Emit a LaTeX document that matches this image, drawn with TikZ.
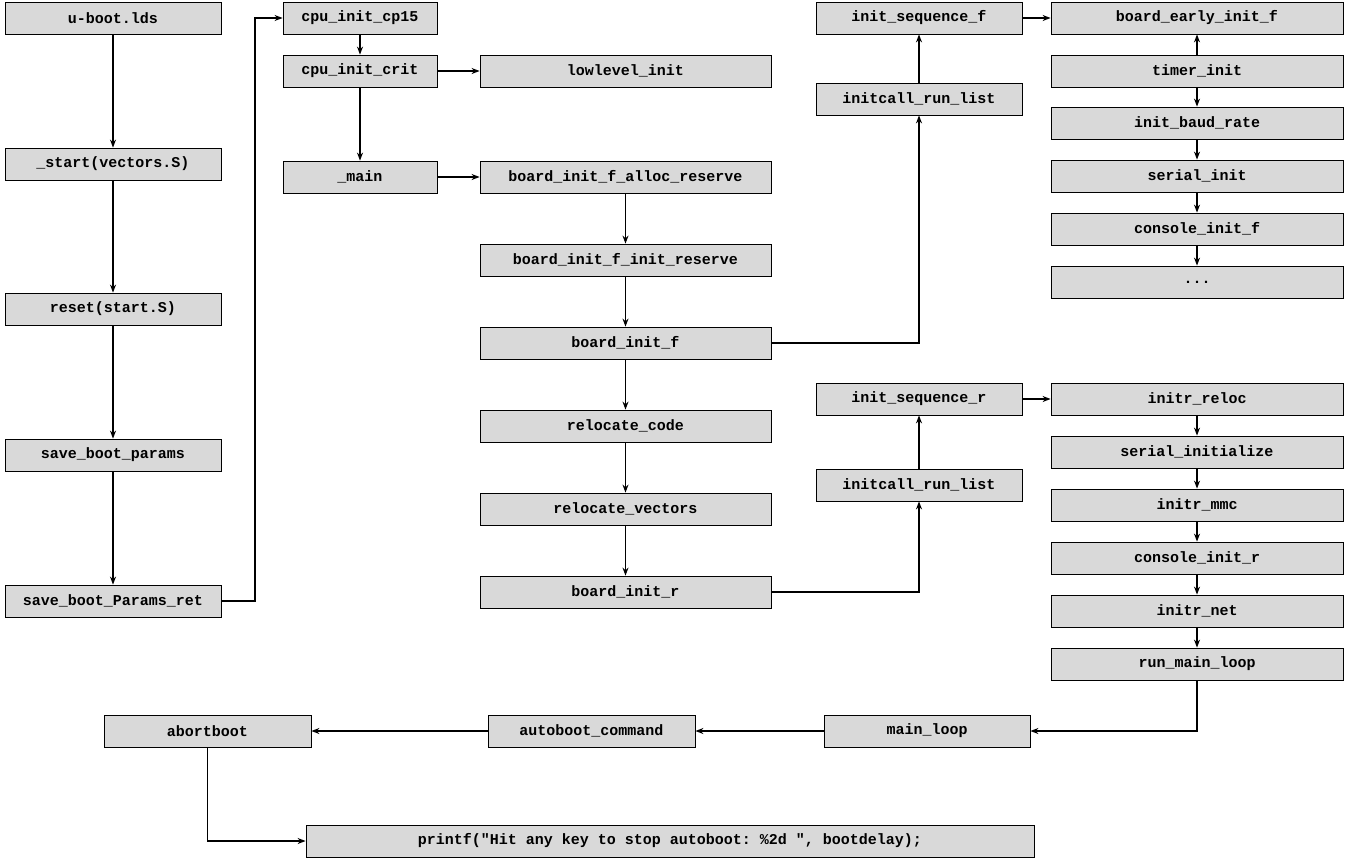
\documentclass[tikz,border=0pt]{standalone}
\usepackage{fontspec}
\setmonofont{Liberation Mono}
\usetikzlibrary{arrows.meta}
\tikzset{box/.style={draw=black,fill=black!15,line width=0.8pt,minimum height=32pt,inner sep=0pt,font=\fontsize{15}{16}\selectfont\ttfamily\bfseries},
ar/.style={-{Stealth[length=8pt,width=6pt]},line width=1.2pt}}
\newcommand\bx[5]{\node[box,minimum width={(#4-#2)*1pt}] (#1) at ({(#2+#4)/2},{#3+16}) {#5};}
\begin{document}
\begin{tikzpicture}[x=1pt,y=-1pt]
\useasboundingbox (0,0) rectangle (1345,862);
\bx{ub}{5}{2}{221}{u-boot.lds}
\bx{st}{5}{148}{221}{\_start(vectors.S)}
\bx{rs}{5}{293}{221}{reset(start.S)}
\bx{sb}{5}{439}{221}{save\_boot\_params}
\bx{sr}{5}{585}{221}{save\_boot\_Params\_ret}
\bx{cp}{283}{2}{437}{cpu\_init\_cp15}
\bx{cc}{283}{55}{437}{cpu\_init\_crit}
\bx{ll}{480}{55}{771}{lowlevel\_init}
\bx{mn}{283}{161}{437}{\_main}
\bx{ar}{480}{161}{771}{board\_init\_f\_alloc\_reserve}
\bx{ir}{480}{244}{771}{board\_init\_f\_init\_reserve}
\bx{bf}{480}{327}{771}{board\_init\_f}
\bx{rc}{480}{410}{771}{relocate\_code}
\bx{rv}{480}{493}{771}{relocate\_vectors}
\bx{br}{480}{576}{771}{board\_init\_r}
\bx{isf}{816}{2}{1022}{init\_sequence\_f}
\bx{crf}{816}{83}{1022}{initcall\_run\_list}
\bx{bef}{1051}{2}{1343}{board\_early\_init\_f}
\bx{ti}{1051}{55}{1343}{timer\_init}
\bx{ibr}{1051}{107}{1343}{init\_baud\_rate}
\bx{si}{1051}{160}{1343}{serial\_init}
\bx{cif}{1051}{213}{1343}{console\_init\_f}
\bx{dd}{1051}{266}{1343}{...}
\bx{isr}{816}{383}{1022}{init\_sequence\_r}
\bx{crr}{816}{469}{1022}{initcall\_run\_list}
\bx{rl}{1051}{383}{1343}{initr\_reloc}
\bx{sz}{1051}{436}{1343}{serial\_initialize}
\bx{mm}{1051}{489}{1343}{initr\_mmc}
\bx{cir}{1051}{542}{1343}{console\_init\_r}
\bx{nt}{1051}{595}{1343}{initr\_net}
\bx{rml}{1051}{648}{1343}{run\_main\_loop}
\bx{ml}{824}{715}{1030}{main\_loop}
\bx{ac}{488}{715}{695}{autoboot\_command}
\bx{ab}{104}{715}{311}{abortboot}
\bx{pf}{306}{825}{1034}{printf("Hit any key to stop autoboot: \%2d ", bootdelay);}
\draw[ar] (ub) -- (st); \draw[ar] (st) -- (rs); \draw[ar] (rs) -- (sb); \draw[ar] (sb) -- (sr);
\draw[ar] (sr.east) -- (255,601) |- (cp.west);
\draw[ar] (cp) -- (cc); \draw[ar] (cc) -- (ll); \draw[ar] (cc) -- (mn); \draw[ar] (mn) -- (ar);
\draw[ar] (ar) -- (ir); \draw[ar] (ir) -- (bf); \draw[ar] (bf) -- (rc); \draw[ar] (rc) -- (rv); \draw[ar] (rv) -- (br);
\draw[ar] (bf.east) -| (crf.south); \draw[ar] (crf) -- (isf); \draw[ar] (isf) -- (bef);
\draw[ar] (ti) -- (bef); \draw[ar] (ti) -- (ibr); \draw[ar] (ibr) -- (si); \draw[ar] (si) -- (cif); \draw[ar] (cif) -- (dd);
\draw[ar] (br.east) -| (crr.south); \draw[ar] (crr) -- (isr); \draw[ar] (isr) -- (rl);
\draw[ar] (rl) -- (sz); \draw[ar] (sz) -- (mm); \draw[ar] (mm) -- (cir); \draw[ar] (cir) -- (nt); \draw[ar] (nt) -- (rml);
\draw[ar] (rml.south) |- (ml.east); \draw[ar] (ml) -- (ac); \draw[ar] (ac) -- (ab);
\draw[ar] (ab.south) |- (pf.west);
\end{tikzpicture}
\end{document}
